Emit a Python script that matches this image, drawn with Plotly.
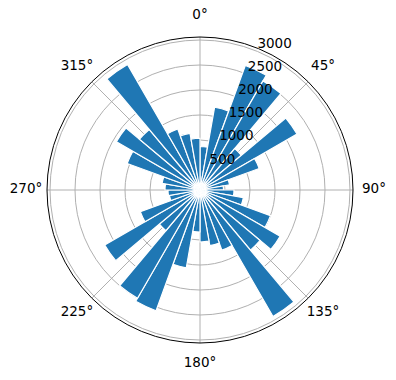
import plotly.graph_objects as go

# compass directions (bin centres, degrees) and counts
directions = [5, 15, 25, 35, 45, 55, 65, 75, 85,
              95, 105, 115, 125, 135, 145, 155, 165, 175,
              185, 195, 205, 215, 225, 235, 245, 255, 265,
              275, 285, 295, 305, 315, 325, 335, 345, 355]
counts = [870, 1680, 2650, 2520, 1080, 2240, 1260, 600, 470,
          680, 880, 1500, 1850, 1570, 2920, 1280, 1130, 1040,
          840, 1580, 2570, 2500, 1060, 2200, 1270, 620, 640,
          700, 770, 1550, 1930, 1580, 2900, 1300, 1150, 1035]
bin_width = 10
angle_ticks = [0, 45, 90, 135, 180, 225, 270, 315]
angle_labels = [f"{a}°" for a in angle_ticks]
radial_ticks = [500, 1000, 1500, 2000, 2500, 3000]
radial_labels = [str(v) for v in radial_ticks]
radial_label_angle = 22.5
r_max = 3060

W, H = 396, 380
cx, cy, R = 200, 190, 153          # main plot circle (px)
R_lab, R_outer = 174, 180           # label ring radius and overlay circle (px)

fig = go.Figure()
fig.add_trace(go.Barpolar(
    r=counts,
    theta=directions,
    width=[bin_width] * len(directions),
    marker=dict(color="#1f77b4", line=dict(color="white", width=1.2)),
    opacity=1,
    hoverinfo="r+theta",
))
# radial tick labels, placed like matplotlib's (left/bottom anchored on the 22.5° line)
fig.add_trace(go.Scatterpolar(
    r=radial_ticks,
    theta=[radial_label_angle] * len(radial_ticks),
    mode="text",
    text=radial_labels,
    textposition="top right",
    textfont=dict(family="DejaVu Sans", size=13.5, color="black"),
    hoverinfo="skip",
    cliponaxis=False,
))
# angular tick labels, centred on a ring just outside the circle (overlay polar)
fig.add_trace(go.Scatterpolar(
    r=[R_lab] * len(angle_ticks),
    theta=angle_ticks,
    mode="text",
    text=angle_labels,
    textposition="middle center",
    textfont=dict(family="DejaVu Sans", size=13.5, color="black"),
    hoverinfo="skip",
    cliponaxis=False,
    subplot="polar2",
))


def dom(radius):
    return dict(x=[(cx - radius) / W, (cx + radius) / W],
                y=[(H - cy - radius) / H, (H - cy + radius) / H])


hidden_axis = dict(showgrid=False, showline=False, showticklabels=False, ticks="")

fig.update_layout(
    width=W, height=H,
    margin=dict(l=0, r=0, t=0, b=0),
    paper_bgcolor="white",
    plot_bgcolor="white",
    showlegend=False,
    font=dict(family="DejaVu Sans", size=13.5, color="black"),
    polar=dict(
        domain=dom(R),
        bgcolor="white",
        angularaxis=dict(
            rotation=90, direction="clockwise",
            tickmode="array", tickvals=angle_ticks,
            showticklabels=False,
            showgrid=True, gridcolor="#b0b0b0", gridwidth=0.8,
            showline=True, linecolor="black", linewidth=1,
            ticks="",
            layer="above traces",
        ),
        radialaxis=dict(
            range=[0, r_max], angle=67.5,
            tickmode="array", tickvals=radial_ticks,
            showticklabels=False,
            showgrid=True, gridcolor="#b0b0b0", gridwidth=0.8,
            showline=False, ticks="",
            layer="above traces",
        ),
    ),
    polar2=dict(
        domain=dom(R_outer),
        bgcolor="rgba(0,0,0,0)",
        angularaxis=dict(rotation=90, direction="clockwise", **hidden_axis),
        radialaxis=dict(range=[0, R_outer], **hidden_axis),
    ),
)

fig.write_html("out.html")
